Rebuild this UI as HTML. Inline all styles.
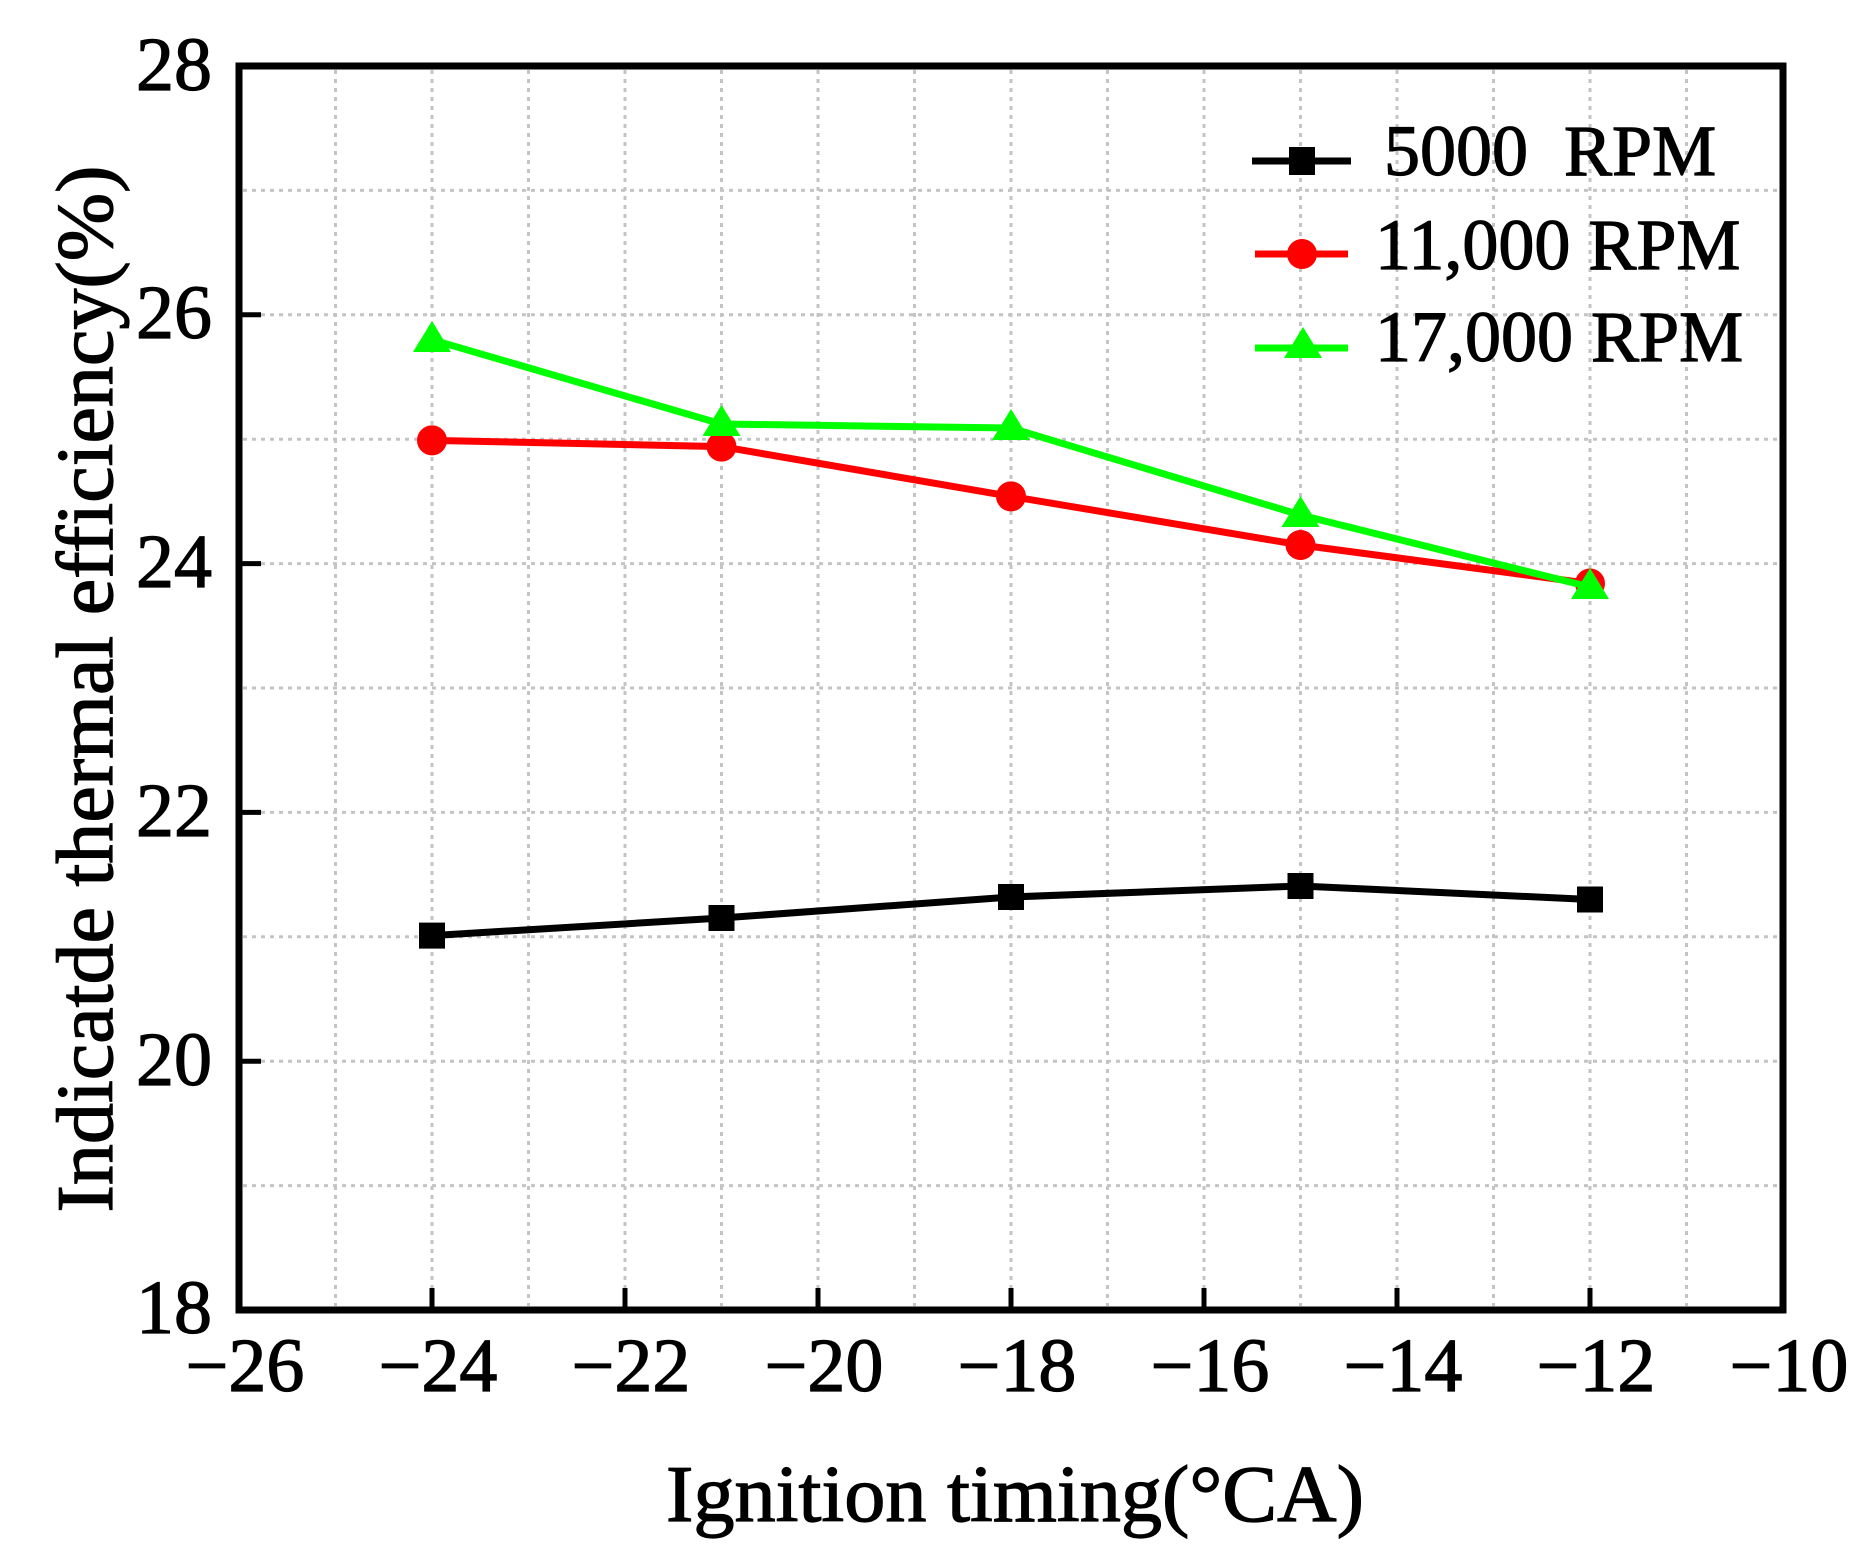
<!DOCTYPE html>
<html><head><meta charset="utf-8"><style>html,body{margin:0;padding:0;background:#fff}svg{display:block}</style></head>
<body>
<svg width="1868" height="1567" xmlns="http://www.w3.org/2000/svg" font-family="Liberation Serif, serif">
<rect width="1868" height="1567" fill="#fff"/>
<g transform="translate(0,-2)">
<g stroke="#c4c4c4" stroke-width="3" stroke-dasharray="4 5">
<path d="M335.5 72V1308M432 72V1308M528.5 72V1308M625 72V1308M721.5 72V1308M818 72V1308M914.5 72V1308M1011 72V1308M1107.5 72V1308M1204 72V1308M1300.5 72V1308M1397 72V1308M1493.5 72V1308M1590 72V1308M1686.5 72V1308"/>
<path d="M243 192.4H1780M243 316.8H1780M243 441.2H1780M243 565.6H1780M243 690H1780M243 814.4H1780M243 938.8H1780M243 1063.2H1780M243 1187.6H1780"/>
</g>
<g stroke="#000" stroke-width="5">
<path d="M432 1312v-22M625 1312v-22M818 1312v-22M1011 1312v-22M1204 1312v-22M1397 1312v-22M1590 1312v-22"/>
<path d="M239 316.8h22M239 565.6h22M239 814.4h22M239 1063.2h22"/>
</g>
<rect x="239" y="68" width="1544" height="1244" fill="none" stroke="#000" stroke-width="7"/>
<g stroke="#000" stroke-width="1.2">
<g font-size="76" text-anchor="end">
<text x="212" y="92">28</text><text x="212" y="340">26</text><text x="212" y="589">24</text>
<text x="212" y="838">22</text><text x="212" y="1087">20</text><text x="212" y="1335">18</text>
</g>
<g font-size="76" text-anchor="middle">
<text x="245" y="1393">−26</text><text x="438" y="1393">−24</text><text x="631" y="1393">−22</text>
<text x="824" y="1393">−20</text><text x="1017" y="1393">−18</text><text x="1210" y="1393">−16</text>
<text x="1403" y="1393">−14</text><text x="1596" y="1393">−12</text><text x="1789" y="1393">−10</text>
</g>
<text x="1015" y="1523" font-size="80" text-anchor="middle" textLength="698" lengthAdjust="spacingAndGlyphs">Ignition timing(°CA)</text>
<text transform="translate(112,691) rotate(-90)" font-size="80" text-anchor="middle" textLength="1047" lengthAdjust="spacingAndGlyphs">Indicatde thermal efficiency(%)</text>
<g font-size="72">
<text x="1384" y="177" xml:space="preserve">5000  RPM</text>
<text x="1375" y="271">11,000 RPM</text>
<text x="1375" y="363">17,000 RPM</text>
</g>
</g>
<polyline points="432,937.6 721.5,920 1011,899 1300.5,888 1590,901.5" fill="none" stroke="#000" stroke-width="7"/>
<g fill="#000"><rect x="419" y="924.6" width="26" height="26"/><rect x="708.5" y="907" width="26" height="26"/><rect x="998" y="886" width="26" height="26"/><rect x="1287.5" y="875" width="26" height="26"/><rect x="1577" y="888.5" width="26" height="26"/></g>
<polyline points="432,442.4 721.5,448.6 1011,498.4 1300.5,547 1590,585.5" fill="none" stroke="#ff0000" stroke-width="7"/>
<g fill="#ff0000"><circle cx="432" cy="442.4" r="15"/><circle cx="721.5" cy="448.6" r="15"/><circle cx="1011" cy="498.4" r="15"/><circle cx="1300.5" cy="547" r="15"/><circle cx="1590" cy="585.5" r="15"/></g>
<polyline points="432,341.7 721.5,426 1011,430 1300.5,517 1590,589" fill="none" stroke="#00ff00" stroke-width="7"/>
<g fill="#00ff00"><path d="M432 323l19 31h-38z"/><path d="M721.5 407l19 31h-38z"/><path d="M1011 411l19 31h-38z"/><path d="M1300.5 498l19 31h-38z"/><path d="M1590 570l19 31h-38z"/></g>
<path d="M1252 163h99" stroke="#000" stroke-width="7"/><rect x="1289" y="149" width="26" height="28" fill="#000"/>
<path d="M1255 256h93" stroke="#ff0000" stroke-width="7"/><circle cx="1302" cy="256" r="15" fill="#ff0000"/>
<path d="M1255 350h93" stroke="#00ff00" stroke-width="7"/><path d="M1303 329l19 31h-38z" fill="#00ff00"/>
</g>
</svg>
</body></html>
